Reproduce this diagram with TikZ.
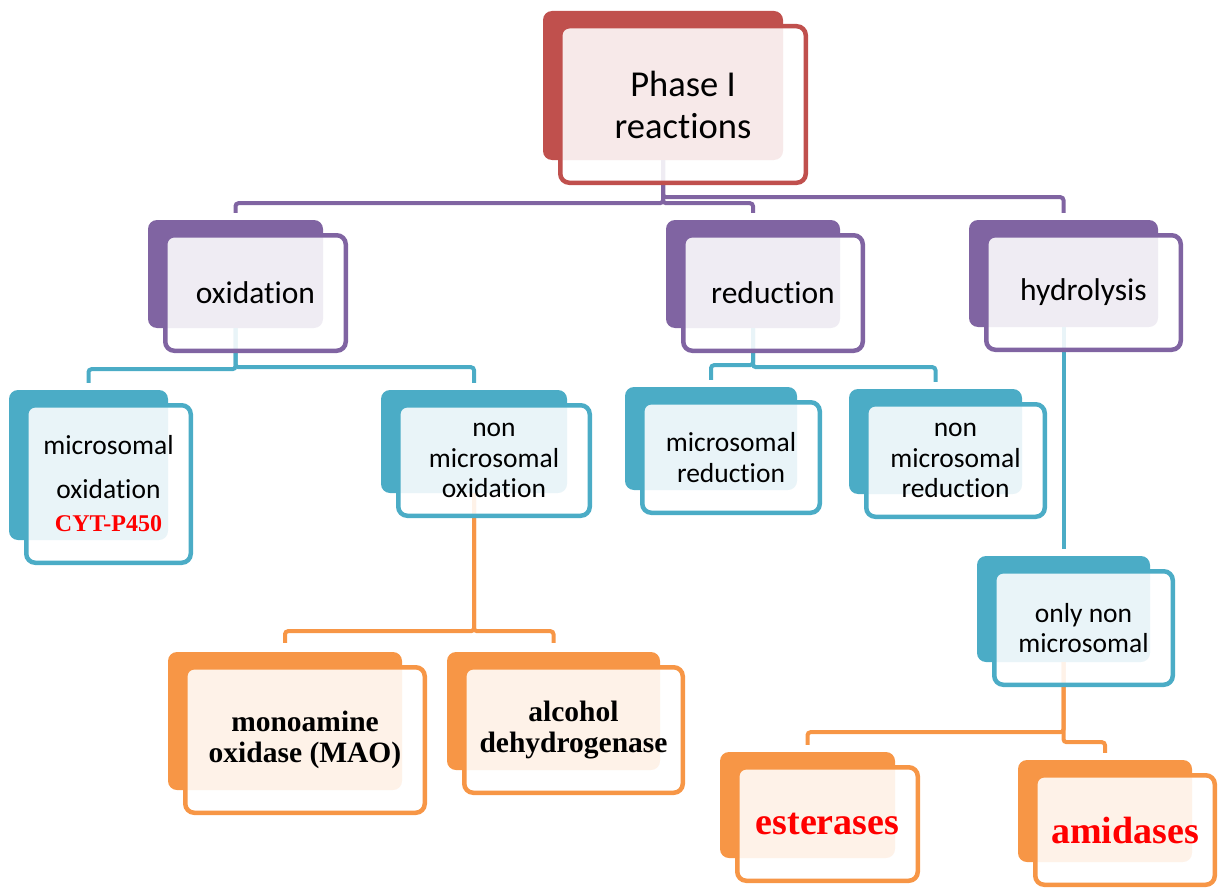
\documentclass[tikz,border=0pt]{standalone}
\usepackage{fontspec}
\setmainfont{Carlito}[Ligatures=NoCommon]
\newfontfamily\timesfont{Liberation Serif}
\usetikzlibrary{positioning, calc, fit, backgrounds}

\definecolor{phred}{HTML}{C0504D}
\definecolor{phpurple}{HTML}{8064A2}
\definecolor{phteal}{HTML}{4BACC6}
\definecolor{phorange}{HTML}{F79646}

\tikzset{
  facebox/.style={draw=#1, line width=4.5pt, rounded corners=9pt, fill=white,
    fill opacity=0.88, text opacity=1, align=center, inner sep=0pt},
  shadowbox/.style={fill=#1, rounded corners=9pt, inner sep=0pt},
  elbow/.style={draw=#1, line width=4pt, rounded corners=3pt, shorten >=7pt},
  toptext/.style={font=\fontsize{36.5}{42}\selectfont},
  midtext/.style={font=\fontsize{31.5}{36}\selectfont},
  lowtext/.style={font=\fontsize{27.5}{30.5}\selectfont},
  enztext/.style={font=\timesfont\bfseries\fontsize{29.5}{31}\selectfont},
  hitext/.style={font=\timesfont\bfseries\fontsize{38}{40}\selectfont, text=red}
}

\begin{document}
\begin{tikzpicture}[x=1pt, y=-1pt]
            \useasboundingbox (0,0) rectangle (1218,888);

            % Front boxes
            \node[facebox=phred, toptext, minimum width=245.5pt, minimum height=156.5pt] (phase) at (683,104.5) {Phase I\\reactions};

            \node[facebox=phpurple, midtext, minimum width=180.5pt, minimum height=115.5pt] (oxi) at (255.5,293) {oxidation};
            \node[facebox=phpurple, midtext, minimum width=179.5pt, minimum height=115.5pt] (red) at (773,293) {reduction};
            \node[facebox=phpurple, midtext, minimum width=194.5pt, minimum height=114.5pt] (hyd) at (1083.5,292.5) {hydrolysis};

            \node[facebox=phteal, lowtext, minimum width=164.5pt, minimum height=157.5pt] (mox) at (108.5,484)
                {microsomal\\[13pt]oxidation\\[3pt]{\timesfont\bfseries\fontsize{24}{26}\selectfont\color{red}CYT-P450}};
            \node[facebox=phteal, lowtext, minimum width=191.5pt, minimum height=110.5pt] (nmox) at (494,460.5) {non\\microsomal\\oxidation};
            \node[facebox=phteal, lowtext, minimum width=177.5pt, minimum height=110.5pt] (mred) at (731,457.5) {microsomal\\reduction};
            \node[facebox=phteal, lowtext, minimum width=178.5pt, minimum height=112.5pt] (nmred) at (955.5,460.5) {non\\microsomal\\reduction};
            \node[facebox=phteal, lowtext, minimum width=178.5pt, minimum height=113.5pt] (onm) at (1083.5,628) {only non\\microsomal};

            \node[facebox=phorange, enztext, minimum width=239.5pt, minimum height=145.5pt] (mao) at (305,740) {monoamine\\oxidase (MAO)};
            \node[facebox=phorange, enztext, minimum width=218.5pt, minimum height=125.5pt] (adh) at (573.5,730) {alcohol\\dehydrogenase};
            \node[facebox=phorange, hitext, minimum width=180.5pt, minimum height=113.5pt] (est) at (827.5,824) {esterases};
            \node[facebox=phorange, hitext, minimum width=179.5pt, minimum height=109.5pt] (ami) at (1125,830) {amidases};

            \begin{pgfonlayer}{background}
                % Shadow boxes behind
                \foreach \n/\c in {phase/phred, oxi/phpurple, red/phpurple, hyd/phpurple,
                                   mox/phteal, nmox/phteal, mred/phteal, nmred/phteal, onm/phteal,
                                   mao/phorange, adh/phorange, est/phorange, ami/phorange}
                    \node[shadowbox=\c, fit={($(\n.north west)+(-15,-13)$) ($(\n.south east)+(-25,-25)$)}] (\n-b) {};

                % Connectors
                \draw[elbow=phpurple] (phase-b.south) -- ++(0,43) -| (oxi-b.north);
                \draw[elbow=phpurple] (phase-b.south) -- ++(0,43) -| (red-b.north);
                \draw[elbow=phpurple] (phase-b.south) -- ++(0,37) -| (hyd-b.north);

                \draw[elbow=phteal] (oxi-b.south) -- ++(0,41) -| (mox-b.north);
                \draw[elbow=phteal] (oxi-b.south) -- ++(0,39) -| (nmox-b.north);
                \draw[elbow=phteal] (red-b.south) -- ++(0,37) -| (mred-b.north);
                \draw[elbow=phteal] (red-b.south) -- ++(0,39) -| (nmred-b.north);
                \draw[elbow=phteal] (hyd-b.south) -- (onm-b.north);

                \draw[elbow=phorange, shorten >=9pt] (nmox-b.south) -- ++(0,138) -| (mao-b.north);
                \draw[elbow=phorange, shorten >=9pt] (nmox-b.south) -- ++(0,138) -| (adh-b.north);
                \draw[elbow=phorange] (onm-b.south) -- ++(0,70) -| (est-b.north);
                \draw[elbow=phorange] (onm-b.south) -- ++(0,80) -| (ami-b.north);
            \end{pgfonlayer}
\end{tikzpicture}
\end{document}
